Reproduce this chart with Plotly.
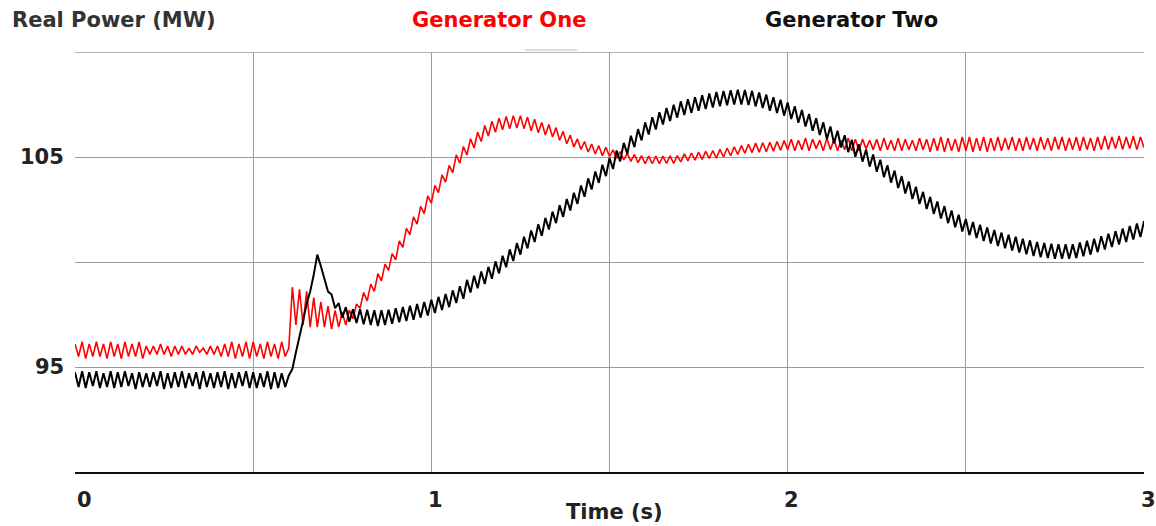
import numpy as np
import plotly.graph_objects as go

# Simulation output, one sample every 10 ms from 0 to 3 s
time_s = np.round(np.arange(301) * 0.01, 2)

gen_one_mw = [
    96.1, 95.5, 96.2, 95.4, 96.1, 95.5, 96.2, 95.5, 96.1, 95.4,
    96.2, 95.5, 96.1, 95.4, 96.2, 95.5, 96.1, 95.5, 96.2, 95.4,
    96.0, 95.6, 96.0, 95.6, 96.1, 95.6, 96.0, 95.5, 96.0, 95.6,
    96.0, 95.6, 95.9, 95.6, 96.0, 95.7, 95.9, 95.6, 96.0, 95.6,
    96.0, 95.5, 96.1, 95.5, 96.2, 95.4, 96.1, 95.5, 96.2, 95.4,
    96.2, 95.5, 96.1, 95.4, 96.2, 95.5, 96.1, 95.4, 96.2, 95.5,
    95.9, 98.8, 97.0, 98.7, 97.0, 98.6, 96.9, 98.3, 96.9, 98.1,
    96.9, 97.9, 96.8, 97.7, 96.9, 97.6, 97.0, 97.7, 97.3, 98.0,
    97.8, 98.55, 98.15, 98.95, 98.6, 99.45, 99.1, 99.9, 99.6, 100.4,
    100.1, 101.0, 100.7, 101.6, 101.3, 102.15, 101.8, 102.65, 102.3, 103.15,
    102.8, 103.65, 103.3, 104.15, 103.8, 104.6, 104.25, 105.1, 104.7, 105.5,
    105.1, 105.87, 105.43, 106.18, 105.74, 106.5, 106.0, 106.7, 106.18, 106.85,
    106.3, 106.93, 106.35, 106.97, 106.38, 106.97, 106.35, 106.9, 106.25, 106.8,
    106.15, 106.65, 106.05, 106.55, 105.95, 106.4, 105.8, 106.22, 105.63, 106.04,
    105.48, 105.86, 105.36, 105.74, 105.24, 105.62, 105.14, 105.54, 105.06, 105.46,
    105.02, 105.34, 104.94, 105.26, 104.86, 105.18, 104.79, 105.12, 104.73, 105.06,
    104.68, 105.04, 104.68, 105.04, 104.68, 105.04, 104.69, 105.05, 104.7, 105.07,
    104.77, 105.15, 104.81, 105.19, 104.85, 105.23, 104.89, 105.27, 104.93, 105.31,
    104.94, 105.37, 105.0, 105.43, 105.06, 105.49, 105.12, 105.55, 105.18, 105.61,
    105.21, 105.66, 105.23, 105.68, 105.25, 105.7, 105.28, 105.74, 105.32, 105.78,
    105.35, 105.85, 105.3, 105.8, 105.35, 105.9, 105.3, 105.85, 105.4, 105.8,
    105.3, 105.9, 105.35, 105.85, 105.3, 105.8, 105.35, 105.9, 105.3, 105.85,
    105.3, 105.85, 105.4, 105.8, 105.35, 105.85, 105.3, 105.9, 105.35, 105.8,
    105.3, 105.9, 105.3, 105.85, 105.35, 105.8, 105.3, 105.9, 105.35, 105.85,
    105.25, 105.9, 105.3, 105.95, 105.25, 105.9, 105.3, 105.85, 105.25, 105.95,
    105.3, 105.95, 105.25, 105.9, 105.3, 105.95, 105.25, 105.9, 105.3, 105.95,
    105.3, 105.9, 105.35, 105.95, 105.3, 105.9, 105.3, 105.95, 105.35, 105.9,
    105.3, 105.95, 105.35, 105.9, 105.3, 105.95, 105.35, 105.95, 105.3, 105.9,
    105.35, 105.95, 105.3, 105.95, 105.35, 105.9, 105.3, 105.95, 105.35, 106.0,
    105.35, 105.95, 105.4, 106.0, 105.35, 105.95, 105.4, 106.0, 105.35, 105.95,
    105.45,
]

gen_two_mw = [
    94.75, 94.05, 94.8, 94.0, 94.75, 94.1, 94.8, 94.0, 94.7, 94.05,
    94.8, 94.0, 94.75, 94.05, 94.8, 94.1, 94.7, 93.95, 94.75, 94.05,
    94.7, 94.05, 94.75, 94.1, 94.8, 93.95, 94.7, 94.0, 94.75, 94.05,
    94.8, 94.0, 94.7, 94.1, 94.75, 93.95, 94.8, 94.05, 94.7, 94.0,
    94.75, 94.05, 94.8, 93.95, 94.7, 94.0, 94.75, 94.1, 94.8, 94.0,
    94.75, 94.0, 94.7, 94.05, 94.8, 93.95, 94.75, 94.0, 94.7, 94.05,
    94.6, 94.9, 95.7, 96.4, 97.2, 98.0, 98.6, 99.4, 100.35, 99.8,
    99.25, 98.6, 98.45, 97.8, 98.05, 97.35, 97.85, 97.15, 97.75, 97.1,
    97.75, 97.04, 97.73, 97.0, 97.7, 96.95, 97.7, 97.0, 97.73, 97.06,
    97.8, 97.13, 97.86, 97.19, 97.92, 97.25, 98.0, 97.35, 98.1, 97.45,
    98.2, 97.57, 98.34, 97.71, 98.48, 97.85, 98.65, 98.05, 98.85, 98.25,
    99.15, 98.55, 99.35, 98.75, 99.55, 98.95, 99.77, 99.2, 100.03, 99.46,
    100.3, 99.75, 100.6, 100.05, 100.9, 100.35, 101.2, 100.65, 101.5, 100.95,
    101.8, 101.25, 102.1, 101.55, 102.4, 101.85, 102.7, 102.15, 103.0, 102.45,
    103.3, 102.77, 103.64, 103.11, 103.98, 103.45, 104.31, 103.77, 104.63, 104.09,
    104.95, 104.43, 105.31, 104.79, 105.67, 105.15, 106.01, 105.47, 106.33, 105.79,
    106.65, 106.07, 106.89, 106.31, 107.13, 106.55, 107.33, 106.71, 107.49, 106.87,
    107.65, 107.0, 107.75, 107.1, 107.85, 107.2, 107.94, 107.28, 108.02, 107.36,
    108.1, 107.42, 108.14, 107.46, 108.18, 107.5, 108.2, 107.5, 108.19, 107.47,
    108.15, 107.41, 108.07, 107.33, 107.97, 107.2, 107.85, 107.09, 107.73, 106.97,
    107.6, 106.81, 107.42, 106.63, 107.24, 106.45, 107.05, 106.25, 106.85, 106.05,
    106.65, 105.85, 106.45, 105.65, 106.25, 105.45, 106.04, 105.23, 105.82, 105.01,
    105.6, 104.78, 105.36, 104.54, 105.12, 104.3, 104.87, 104.04, 104.61, 103.78,
    104.35, 103.52, 104.09, 103.26, 103.83, 103.0, 103.58, 102.76, 103.34, 102.52,
    103.1, 102.29, 102.88, 102.07, 102.66, 101.85, 102.45, 101.65, 102.25, 101.45,
    102.05, 101.28, 101.91, 101.14, 101.77, 101.0, 101.64, 100.88, 101.52, 100.76,
    101.4, 100.65, 101.3, 100.55, 101.2, 100.45, 101.11, 100.37, 101.03, 100.29,
    100.95, 100.23, 100.91, 100.19, 100.87, 100.15, 100.85, 100.15, 100.85, 100.15,
    100.85, 100.19, 100.93, 100.27, 101.01, 100.35, 101.11, 100.47, 101.23, 100.59,
    101.35, 100.71, 101.47, 100.83, 101.59, 100.95, 101.71, 101.07, 101.83, 101.19,
    101.95,
]

series_names = ["Generator One", "Generator Two"]
series_colors = ["#ff0000", "#000000"]

x_grid = [0.5, 1.0, 1.5, 2.0, 2.5, 3.0]
y_grid = [95, 100, 105, 110]
x_tick_vals = [0, 1, 2, 3]
x_tick_text = ["0", "1", "2", "3"]
y_tick_vals = [105, 95]
y_tick_text = ["105", "95"]

FONT = "DejaVu Sans"
FSIZE = 21
GRID = "#9a9a9a"

fig = go.Figure()
fig.add_trace(go.Scatter(x=time_s, y=gen_one_mw, mode="lines", name=series_names[0],
                         line=dict(color=series_colors[0], width=1.6), showlegend=False))
fig.add_trace(go.Scatter(x=time_s, y=gen_two_mw, mode="lines", name=series_names[1],
                         line=dict(color=series_colors[1], width=2), showlegend=False))

annotations = []
# y tick labels, right-aligned left of the plot
for v, txt in zip(y_tick_vals, y_tick_text):
    annotations.append(dict(x=0, xref="paper", y=v, yref="y", text=f"<b>{txt}</b>",
                            xanchor="right", yanchor="middle", xshift=-9, showarrow=False,
                            font=dict(family=FONT, size=FSIZE, color="#222")))
# x tick labels under the axis
for v, txt in zip(x_tick_vals, x_tick_text):
    annotations.append(dict(x=v, xref="x", y=0, yref="paper", text=f"<b>{txt}</b>",
                            xanchor="center", yanchor="middle",
                            xshift=9 if v == 0 else 4, yshift=-28, showarrow=False,
                            font=dict(family=FONT, size=FSIZE, color="#222")))
# axis titles and series labels across the top
annotations.append(dict(x=0, xref="paper", y=1, yref="paper", text="<b>Real Power (MW)</b>",
                        xanchor="left", yanchor="middle", xshift=-65, yshift=32, showarrow=False,
                        font=dict(family=FONT, size=FSIZE, color="#333")))
annotations.append(dict(x=0, xref="paper", y=1, yref="paper", text=f"<b>{series_names[0]}</b>",
                        xanchor="left", yanchor="middle", xshift=335, yshift=32, showarrow=False,
                        font=dict(family=FONT, size=FSIZE, color=series_colors[0])))
annotations.append(dict(x=0, xref="paper", y=1, yref="paper", text=f"<b>{series_names[1]}</b>",
                        xanchor="left", yanchor="middle", xshift=688, yshift=32, showarrow=False,
                        font=dict(family=FONT, size=FSIZE, color="#111")))
annotations.append(dict(x=0, xref="paper", y=0, yref="paper", text="<b>Time (s)</b>",
                        xanchor="left", yanchor="middle", xshift=489, yshift=-40, showarrow=False,
                        font=dict(family=FONT, size=FSIZE, color="#222")))

fig.update_layout(
    width=1156, height=526,
    margin=dict(l=75, r=12, t=52, b=54),
    paper_bgcolor="white", plot_bgcolor="white",
    annotations=annotations,
    shapes=[
        # top frame edge at the 110 MW grid level
        dict(type="line", xref="paper", yref="y", x0=0, x1=1, y0=y_grid[-1], y1=y_grid[-1],
             line=dict(color=GRID, width=1.5)),
        # faint tab mark under the first series label
        dict(type="line", xref="paper", yref="paper", x0=0.421, x1=0.47, y0=1.005, y1=1.005,
             line=dict(color="#d0d0d0", width=1.5)),
    ],
    xaxis=dict(range=[0, 3], tickvals=x_grid, showticklabels=False, ticks="",
               showgrid=True, gridcolor=GRID, gridwidth=1, zeroline=False,
               showline=True, linecolor="#111", linewidth=2),
    yaxis=dict(range=[90, 110], tickvals=y_grid, showticklabels=False, ticks="",
               showgrid=True, gridcolor=GRID, gridwidth=1, zeroline=False, showline=False),
)

fig.write_html("out.html")
